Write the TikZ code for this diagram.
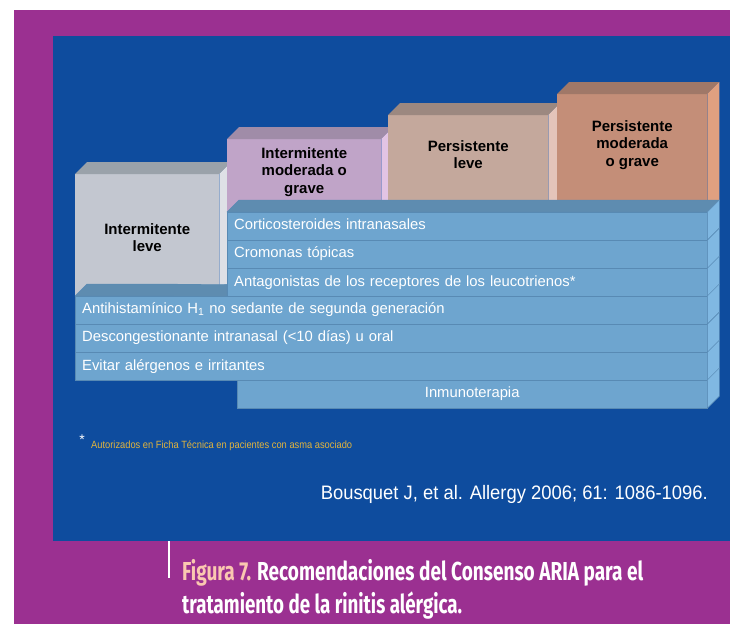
\documentclass[tikz,border=0pt]{standalone}
\usepackage{fontspec}
\usepackage{graphicx}
\setmainfont{Liberation Sans}
\newfontfamily\captionfont{Fira Sans}
\usetikzlibrary{positioning}

\definecolor{purplebg}{RGB}{155,48,145}
\definecolor{bluebg}{RGB}{14,76,158}
\definecolor{barfront}{RGB}{110,165,207}
\definecolor{bartop}{RGB}{94,140,176}
\definecolor{barside}{RGB}{128,184,226}
\definecolor{barline}{RGB}{88,138,180}
\definecolor{ilfront}{RGB}{195,199,208}
\definecolor{iltop}{RGB}{154,162,170}
\definecolor{ilside}{RGB}{222,224,230}
\definecolor{imgfront}{RGB}{192,164,200}
\definecolor{imgtop}{RGB}{160,140,168}
\definecolor{imgside}{RGB}{226,196,228}
\definecolor{plfront}{RGB}{196,168,156}
\definecolor{pltop}{RGB}{156,136,128}
\definecolor{plside}{RGB}{228,196,186}
\definecolor{pmgfront}{RGB}{196,142,120}
\definecolor{pmgtop}{RGB}{160,120,104}
\definecolor{pmgside}{RGB}{224,160,128}
\definecolor{notecolor}{RGB}{226,180,60}
\definecolor{figcolor}{RGB}{250,200,176}

\begin{document}
\begin{tikzpicture}[
            x = 1pt, y = -1pt, % one unit per pixel, y grows downwards
            font = \fontsize{14.8}{17}\selectfont,
            every node/.style = {inner sep = 0pt}
        ]

        \tikzstyle{front}=[
            anchor = north west,
            draw = none
        ]
        \tikzstyle{boxtext}=[
            font = \bfseries\fontsize{15}{17.5}\selectfont,
            align = center,
            anchor = north
        ]
        \tikzstyle{bar}=[
            anchor = north west,
            draw = barline,
            fill = barfront,
            text = white,
            minimum height = 27.7pt,
            text height = 11pt,
            text depth = 3.5pt,
            inner xsep = 7pt,
            align = left
        ]
        \tikzstyle{face}=[
            draw = barline,
            fill = barside,
            line width = 0.4pt
        ]

        % background
        \useasboundingbox (0,0) rectangle (730,624);
        \fill[white] (0,0) rectangle (730,624);
        \fill[purplebg] (14,10) rectangle (730,624);
        \fill[bluebg] (53,36) rectangle (730,541);

        % Intermitente leve
        \node[front, fill = ilfront, minimum width = 144pt, minimum height = 122pt] (il) at (75,174) {};
        \fill[iltop] (il.north west) -- ++(12,-12) -- ([shift = {(12,-12)}]il.north east) -- (il.north east) -- cycle;
        \fill[ilside] (il.north east) -- ++(12,-12) -- ([shift = {(12,-12)}]il.south east) -- (il.south east) -- cycle;
        \node[boxtext, below = 49pt of il.north] {Intermitente\\leve};

        % Intermitente moderada o grave
        \node[front, fill = imgfront, minimum width = 154pt, minimum height = 73pt] (img) at (227,139) {};
        \fill[imgtop] (img.north west) -- ++(12,-12) -- ([shift = {(12,-12)}]img.north east) -- (img.north east) -- cycle;
        \fill[imgside] (img.north east) -- ++(12,-12) -- ([shift = {(12,-12)}]img.south east) -- (img.south east) -- cycle;
        \node[boxtext, below = 8pt of img.north] {Intermitente\\moderada o\\grave};

        % Persistente leve
        \node[front, fill = plfront, minimum width = 160pt, minimum height = 97pt] (pl) at (388,115) {};
        \fill[pltop] (pl.north west) -- ++(12,-12) -- ([shift = {(12,-12)}]pl.north east) -- (pl.north east) -- cycle;
        \fill[plside] (pl.north east) -- ++(12,-12) -- ([shift = {(12,-12)}]pl.south east) -- (pl.south east) -- cycle;
        \node[boxtext, below = 25pt of pl.north] {Persistente\\leve};

        % Persistente moderada o grave
        \node[front, fill = pmgfront, minimum width = 150pt, minimum height = 118pt] (pmg) at (557,94) {};
        \fill[pmgtop] (pmg.north west) -- ++(12,-12) -- ([shift = {(12,-12)}]pmg.north east) -- (pmg.north east) -- cycle;
        \fill[pmgside] (pmg.north east) -- ++(12,-12) -- ([shift = {(12,-12)}]pmg.south east) -- (pmg.south east) -- cycle;
        \node[boxtext, below = 26pt of pmg.north] {Persistente\\moderada\\o grave};

        % treatment bars
        \node[bar, text width = 466pt] (cort) at (227,212) {Corticosteroides intranasales};
        \node[bar, text width = 466pt, below = 0pt of cort] (crom) {Cromonas tópicas};
        \node[bar, text width = 466pt, below = 0pt of crom] (antag) {Antagonistas de los receptores de los leucotrienos*};
        \node[bar, text width = 618pt] (anti) at (75,296) {Antihistamínico H\textsubscript{1} no sedante de segunda generación};
        \node[bar, text width = 618pt, below = 0pt of anti] (desc) {Descongestionante intranasal (<10 días) u oral};
        \node[bar, text width = 618pt, below = 0pt of desc] (evit) {Evitar alérgenos e irritantes};
        \node[bar, text width = 456pt, align = center] (inmu) at (237,380) {Inmunoterapia};

        \filldraw[face, fill = bartop] (cort.north west) -- ++(12,-12) -- ([shift = {(12,-12)}]cort.north east) -- (cort.north east) -- cycle;
        \filldraw[face, fill = bartop] (anti.north west) -- ++(12,-12) -- ([yshift = 12pt]antag.south west) -- (antag.south west) -- cycle;

        \filldraw[face] (cort.north east) -- ++(12,-12) -- ([shift = {(12,-12)}]cort.south east) -- (cort.south east) -- cycle;
        \filldraw[face] (crom.north east) -- ++(12,-12) -- ([shift = {(12,-12)}]crom.south east) -- (crom.south east) -- cycle;
        \filldraw[face] (antag.north east) -- ++(12,-12) -- ([shift = {(12,-12)}]antag.south east) -- (antag.south east) -- cycle;
        \filldraw[face] (anti.north east) -- ++(12,-12) -- ([shift = {(12,-12)}]anti.south east) -- (anti.south east) -- cycle;
        \filldraw[face] (desc.north east) -- ++(12,-12) -- ([shift = {(12,-12)}]desc.south east) -- (desc.south east) -- cycle;
        \filldraw[face] (evit.north east) -- ++(12,-12) -- ([shift = {(12,-12)}]evit.south east) -- (evit.south east) -- cycle;
        \filldraw[face] (inmu.north east) -- ++(12,-12) -- ([shift = {(12,-12)}]inmu.south east) -- (inmu.south east) -- cycle;

        % footnote and reference
        \node[text = white, font = \fontsize{14}{14}\selectfont] (star) at (82,440) {*};
        \node[anchor = west, text = notecolor, font = \fontsize{10.5}{10.5}\selectfont] (note) at (91,446)
            {\resizebox{261pt}{\height}{Autorizados en Ficha Técnica en pacientes con asma asociado}};
        \node[anchor = base east, text = white, font = \fontsize{19.5}{20}\selectfont] (cite) at (708,499)
            {\resizebox{387pt}{\height}{Bousquet J, et al. Allergy 2006; 61: 1086-1096.}};

        % caption
        \draw[white, line width = 1.5pt] (169,541) -- (169,578);
        \node[anchor = base west, text = white, font = \captionfont\bfseries\fontsize{26}{26}\selectfont] (cap1) at (182,580)
            {\resizebox{461pt}{\height}{\textcolor{figcolor}{Figura 7.} Recomendaciones del Consenso ARIA para el}};
        \node[anchor = base west, text = white, font = \captionfont\bfseries\fontsize{26}{26}\selectfont] (cap2) at (182,613)
            {\resizebox{280pt}{\height}{tratamiento de la rinitis alérgica.}};

  \end{tikzpicture}
\end{document}
